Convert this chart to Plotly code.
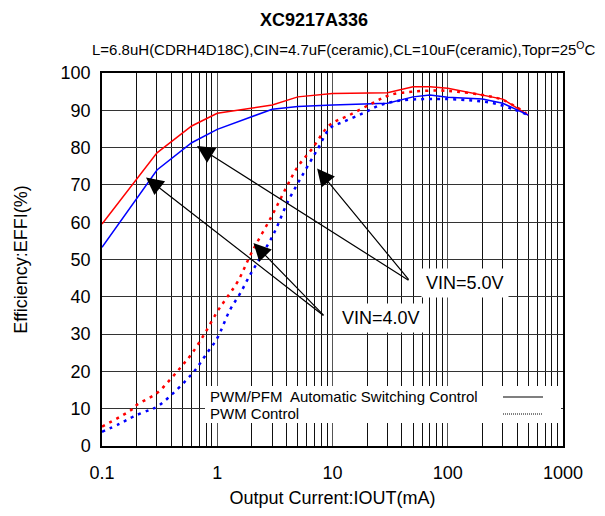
import plotly.graph_objects as go
import numpy as np

# ---- data ----
x_auto = [0.1, 0.3, 0.6, 1, 3, 5, 10, 30, 50, 70, 100, 200, 300, 500]
y_auto_5v = [59.5, 78.6, 85.8, 89.2, 91.4, 93.6, 94.5, 94.7, 96.3, 96.3, 95.9, 94.1, 93.0, 88.7]
y_auto_4v = [53.3, 74.0, 81.3, 84.9, 90.3, 91.0, 91.4, 91.9, 93.6, 94.1, 93.5, 93.0, 91.9, 88.7]

x_pwm_5v = [0.1, 0.18, 0.2, 0.3, 0.4, 0.5, 0.6, 0.78, 1.0, 1.2, 1.5, 2, 3, 4, 5, 6.7, 9.4,
            14, 22.5, 31.5, 50, 86, 120, 200, 300, 480]
y_pwm_5v = [5.2, 9.7, 11.0, 14.2, 18.2, 21.7, 24.7, 30.2, 36.0, 39.6, 44.0, 52.0, 61.9, 69.5,
            74.9, 79.8, 86.0, 88.7, 92.0, 94.1, 95.0, 95.3, 95.0, 94.1, 92.8, 89.2]

x_pwm_4v = [0.1, 0.143, 0.187, 0.26, 0.3, 0.4, 0.54, 0.66, 0.81, 1.0, 1.29, 1.58, 1.92, 2.3,
            3.1, 4.1, 5.6, 7.5, 9.5, 12.4, 18.4, 26, 38.5, 61, 100, 166, 250, 370, 500]
y_pwm_4v = [3.8, 6.0, 7.9, 9.7, 10.5, 13.7, 17.7, 20.8, 24.8, 28.9, 36.5, 40.9, 45.8, 49.9,
            57.0, 65.5, 73.1, 79.8, 85.2, 86.9, 89.2, 91.4, 92.6, 93.0, 93.0, 92.6, 91.9, 90.3, 88.7]

x_tickvals = [0.1, 1, 10, 100, 1000]
x_ticktext = ["0.1", "1", "10", "100", "1000"]

# arrow annotations: (tip_x, tip_y, tail_x, tail_y)
arrows_5v = [(0.667, 80.4, 47.0, 44.2), (7.35, 74.4, 47.0, 44.2)]
arrows_4v = [(0.241, 72.0, 8.6, 34.7), (2.06, 54.4, 8.6, 34.7)]
label_5v = (141, 43.7)
label_4v = (26.4, 34.3)

FONT = "Liberation Sans, Arial, sans-serif"

# page-pixel geometry of the plot area (browser body has 8px margin)
PX0, PX1, PY0, PY1 = 102, 563, 73, 446
W, H = 589, 500


def px(xp):
    return (xp - PX0) / (PX1 - PX0)


def py(yp):
    return (PY1 - yp) / (PY1 - PY0)


fig = go.Figure()
fig.add_trace(go.Scatter(x=x_auto, y=y_auto_5v, mode="lines",
                         line=dict(color="#ff0000", width=1.5), showlegend=False))
fig.add_trace(go.Scatter(x=x_auto, y=y_auto_4v, mode="lines",
                         line=dict(color="#0000ff", width=1.5), showlegend=False))
fig.add_trace(go.Scatter(x=x_pwm_5v, y=y_pwm_5v, mode="lines",
                         line=dict(color="#ff0000", width=2.5, dash="3px,5px"),
                         line_shape="spline", showlegend=False))
fig.add_trace(go.Scatter(x=x_pwm_4v, y=y_pwm_4v, mode="lines",
                         line=dict(color="#0000ff", width=2.5, dash="3px,5px"),
                         line_shape="spline", showlegend=False))

annotations = []
for tx, ty, ax, ay in arrows_5v + arrows_4v:
    annotations.append(dict(
        x=np.log10(tx), y=ty, ax=np.log10(ax), ay=ay,
        xref="x", yref="y", axref="x", ayref="y",
        text="", showarrow=True, arrowhead=2, arrowsize=2.9, arrowwidth=1.2,
        arrowcolor="black"))

annotations.append(dict(x=np.log10(label_5v[0]), y=label_5v[1], xref="x", yref="y",
                        text="VIN=5.0V", showarrow=False, bgcolor="white", borderpad=4,
                        font=dict(family=FONT, size=18, color="black")))
annotations.append(dict(x=np.log10(label_4v[0]), y=label_4v[1], xref="x", yref="y",
                        text="VIN=4.0V", showarrow=False, bgcolor="white", borderpad=4,
                        font=dict(family=FONT, size=18, color="black")))

# legend texts
annotations.append(dict(x=px(208), y=py(396), xref="paper", yref="paper",
                        text="PWM/PFM  Automatic Switching Control", showarrow=False,
                        xanchor="left", yanchor="middle",
                        font=dict(family=FONT, size=15, color="black")))
annotations.append(dict(x=px(208), y=py(413), xref="paper", yref="paper",
                        text="PWM Control", showarrow=False,
                        xanchor="left", yanchor="middle",
                        font=dict(family=FONT, size=15, color="black")))

# title / subtitle
annotations.append(dict(x=px(314), y=py(20), xref="paper", yref="paper",
                        text="<b>XC9217A336</b>", showarrow=False, yanchor="middle",
                        font=dict(family=FONT, size=18, color="black")))
annotations.append(dict(x=px(344), y=py(49), xref="paper", yref="paper",
                        text="L=6.8uH(CDRH4D18C),CIN=4.7uF(ceramic),CL=10uF(ceramic),Topr=25<sup>O</sup>C",
                        showarrow=False, yanchor="middle",
                        font=dict(family=FONT, size=15, color="black")))

shapes = [
    dict(type="rect", xref="paper", yref="paper", layer="above",
         x0=px(205), x1=px(561), y0=py(423), y1=py(386),
         fillcolor="white", line=dict(width=0)),
    dict(type="line", xref="paper", yref="paper", layer="above",
         x0=px(503), x1=px(543), y0=py(397), y1=py(397),
         line=dict(color="black", width=1.2)),
    dict(type="line", xref="paper", yref="paper", layer="above",
         x0=px(503), x1=px(543), y0=py(414), y1=py(414),
         line=dict(color="black", width=1, dash="1px,1px")),
]

fig.update_layout(
    width=W, height=H,
    margin=dict(l=PX0 - 8, r=W - (PX1 - 8), t=PY0 - 8, b=H - (PY1 - 8)),
    paper_bgcolor="white", plot_bgcolor="white",
    font=dict(family=FONT, size=18, color="black"),
    annotations=annotations, shapes=shapes,
    xaxis=dict(type="log", range=[-1, 3], tickvals=x_tickvals, ticktext=x_ticktext,
               automargin=False,
               showgrid=True, gridcolor="#555555", gridwidth=1.4,
               minor=dict(dtick="D1", showgrid=True, gridcolor="#111111", gridwidth=1),
               showline=True, mirror=True, linecolor="black", linewidth=1.5,
               ticks="", zeroline=False, tickfont=dict(size=18), ticklabelstandoff=10,
               title=dict(text="Output Current:IOUT(mA)", font=dict(size=18), standoff=11)),
    yaxis=dict(range=[0, 100], dtick=10, automargin=False,
               showgrid=True, gridcolor="#333333", gridwidth=1.3,
               showline=True, mirror=True, linecolor="black", linewidth=1.5,
               ticks="", zeroline=False, tickfont=dict(size=18), ticklabelstandoff=6,
               title=dict(text="Efficiency:EFFI(%)", font=dict(size=18), standoff=28)),
)

fig.write_html("out.html")
